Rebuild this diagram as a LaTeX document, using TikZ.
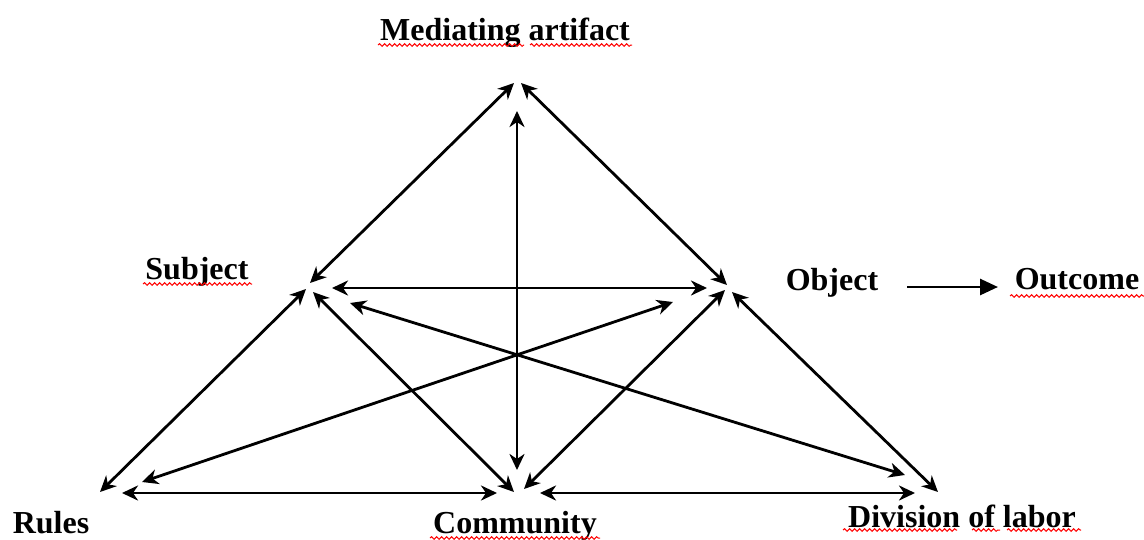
\documentclass[tikz,border=0pt]{standalone}
\usepackage{fontspec}
\setmainfont{Liberation Serif}
\usetikzlibrary{arrows.meta,decorations.pathmorphing}
\tikzset{
  link/.style={line width=2.8pt, {Stealth[length=16pt,width=15pt,inset=5pt]}-{Stealth[length=16pt,width=15pt,inset=5pt]}},
  oneway/.style={line width=2.8pt, -{Triangle[length=18pt,width=16pt]}},
  lbl/.style={anchor=base, inner sep=0pt, font=\fontsize{32}{38}\selectfont\bfseries},
  squig/.style={draw=red, line width=1pt, decorate, decoration={snake, amplitude=1.3pt, segment length=5pt}}
}
\begin{document}
\begin{tikzpicture}[x=1pt,y=-1pt]
\useasboundingbox (0,0) rectangle (1144,539);
% labels
\node[lbl] (art) at (505,40) {Mediating artifact};
\node[lbl] (subj) at (197,279) {Subject};
\node[lbl] (obj) at (832,290) {Object};
\node[lbl] (out) at (1077,289) {Outcome};
\node[lbl] (rules) at (51,533) {Rules};
\node[lbl] (comm) at (515,533) {Community};
\node[lbl] (div) at (962,527) {Division of labor};
% squiggles
\draw[squig] (378,45) -- (524,45);
\draw[squig] (530,45) -- (632,45);
\draw[squig] (143,284) -- (252,284);
\draw[squig] (1010,296) -- (1144,296);
\draw[squig] (430,538) -- (600,538);
\draw[squig] (843,530) -- (957,530);
\draw[squig] (972,530) -- (1000,530);
\draw[squig] (1007,530) -- (1081,530);
% endpoints
\coordinate (aL) at (514,83);
\coordinate (aR) at (521,83);
\coordinate (aV) at (517,111);
\coordinate (sA) at (310,283);
\coordinate (sR) at (306,289);
\coordinate (sC) at (313,292);
\coordinate (sO) at (332,288);
\coordinate (sD) at (350,303);
\coordinate (oA) at (727,285);
\coordinate (oS) at (707,288);
\coordinate (oR) at (673,302);
\coordinate (oC) at (725,290);
\coordinate (oD) at (732,292);
\coordinate (oOut) at (907,287);
\coordinate (rS) at (100,492);
\coordinate (rO) at (142,482);
\coordinate (rC) at (122,493);
\coordinate (cV) at (517,470);
\coordinate (cS) at (514,492);
\coordinate (cO) at (524,489);
\coordinate (cR) at (497,493);
\coordinate (cD) at (540,493);
\coordinate (dS) at (905,475);
\coordinate (dO) at (938,492);
\coordinate (dC) at (915,493);
\coordinate (outL) at (998,287);
% connectors
\draw[link] (sA) -- (aL);
\draw[link] (oA) -- (aR);
\draw[link] (aV) -- (cV);
\draw[link] (sO) -- (oS);
\draw[link] (sR) -- (rS);
\draw[link] (sC) -- (cS);
\draw[link] (sD) -- (dS);
\draw[link] (oR) -- (rO);
\draw[link] (oC) -- (cO);
\draw[link] (oD) -- (dO);
\draw[link] (rC) -- (cR);
\draw[link] (cD) -- (dC);
\draw[oneway] (oOut) -- (outL);
\end{tikzpicture}
\end{document}
